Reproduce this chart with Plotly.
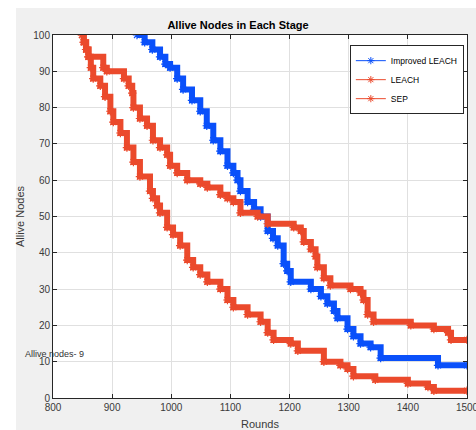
import plotly.graph_objects as go

# Rounds at which the alive-node count steps to the listed value
improved_rounds = [942, 955, 968, 981, 990, 998, 1010, 1020, 1035, 1049, 1060, 1071, 1083, 1095,
                   1105, 1112, 1117, 1129, 1140, 1151, 1163, 1172, 1180, 1190, 1196, 1202, 1236,
                   1253, 1264, 1275, 1281, 1298, 1308, 1320, 1337, 1354, 1451, 1500]
improved_alive = [100, 98, 96, 94, 92, 91, 88, 85, 82, 79, 75, 71, 68, 64,
                  62, 60, 57, 54, 52, 50, 46, 44, 42, 37, 35, 32, 30,
                  28, 26, 24, 22, 19, 17, 15, 14, 11, 9, 9]

leach_rounds = [849, 852, 856, 860, 864, 868, 880, 888, 897, 902, 914, 925, 936, 947, 964, 969,
                976, 981, 993, 1003, 1015, 1027, 1037, 1049, 1061, 1083, 1095, 1105, 1129, 1151,
                1163, 1173, 1202, 1214, 1258, 1286, 1298, 1308, 1345, 1400, 1434, 1444, 1500]
leach_alive = [100, 98, 96, 94, 91, 88, 86, 83, 79, 76, 73, 69, 65, 61, 57, 55,
               53, 51, 47, 45, 42, 38, 36, 34, 32, 30, 27, 25, 23, 21,
               18, 16, 15, 13, 10, 9, 8, 6, 5, 4, 3, 2, 2]

sep_rounds = [849, 852, 856, 860, 885, 891, 920, 928, 934, 936, 947, 959, 969, 981, 993, 998,
              1010, 1027, 1049, 1061, 1083, 1095, 1105, 1117, 1146, 1163, 1207, 1219, 1224, 1236,
              1244, 1247, 1258, 1269, 1303, 1320, 1325, 1332, 1342, 1405, 1444, 1468, 1473, 1500]
sep_alive = [100, 98, 96, 94, 91, 90, 88, 86, 84, 80, 77, 75, 71, 69, 67, 64,
             62, 60, 59, 58, 56, 55, 54, 51, 50, 48, 47, 46, 43, 41,
             39, 36, 33, 31, 30, 29, 27, 23, 21, 20, 19, 18, 16, 16]

x_ticks = [800, 900, 1000, 1100, 1200, 1300, 1400, 1500]
y_ticks = [0, 10, 20, 30, 40, 50, 60, 70, 80, 90, 100]

BLUE = "#0a50fa"
RED = "#eb4a2c"
FONT = "Liberation Sans, Arial, Helvetica, sans-serif"
INK = "#262626"
TICK_INK = "#3a3a3a"

fig = go.Figure()

series = [
    ("Improved LEACH", improved_rounds, improved_alive, BLUE),
    ("LEACH", leach_rounds, leach_alive, RED),
    ("SEP", sep_rounds, sep_alive, RED),
]

# Thick stepped bands with star markers
for name, xs, ys, col in series:
    fig.add_trace(go.Scatter(
        x=xs, y=ys, mode="lines+markers", name=name, showlegend=False,
        line=dict(color=col, width=6, shape="hv"),
        marker=dict(symbol="asterisk-open", size=7, color=col,
                    line=dict(color=col, width=1.2)),
        hoverinfo="skip",
    ))

# Legend entries drawn with thin lines
for name, xs, ys, col in series:
    fig.add_trace(go.Scatter(
        x=[None], y=[None], mode="lines+markers", name=name,
        line=dict(color=col, width=1),
        marker=dict(symbol="asterisk-open", size=6, color=col,
                    line=dict(color=col, width=1)),
    ))

axis_common = dict(
    showgrid=True, gridcolor="#e0e0e0", gridwidth=1,
    showline=True, linecolor=INK, linewidth=1, mirror="ticks",
    ticks="inside", ticklen=4, tickcolor=INK,
    tickfont=dict(family=FONT, size=10, color=TICK_INK),
    ticklabeloverflow="allow", automargin=False,
    zeroline=False,
)

fig.update_layout(
    width=476, height=430,
    margin=dict(l=53, r=9, t=35, b=32),
    paper_bgcolor="white", plot_bgcolor="white",
    title=dict(text="<b>Allive Nodes in Each Stage</b>", x=0.5, xanchor="center",
               y=1, yref="paper", yanchor="bottom", pad=dict(b=6),
               font=dict(family=FONT, size=11, color="black")),
    xaxis=dict(range=[800, 1500], tickvals=x_ticks,
               title=dict(text="Rounds", font=dict(family=FONT, size=11, color=TICK_INK), standoff=12),
               **axis_common),
    yaxis=dict(range=[0, 100], tickvals=y_ticks,
               title=dict(text="Allive Nodes", font=dict(family=FONT, size=11, color=TICK_INK), standoff=6),
               **axis_common),
    legend=dict(x=0.717, y=0.972, xanchor="left", yanchor="top",
                bgcolor="white", bordercolor=INK, borderwidth=1,
                font=dict(family=FONT, size=8.5, color="black"),
                tracegroupgap=0, itemwidth=30),
    shapes=[
        dict(type="rect", xref="paper", yref="paper", x0=-0.0894, x1=1.03, y0=-0.1, y1=1.0744,
             fillcolor="#f0f0f0", line=dict(width=0), layer="below"),
        dict(type="rect", xref="paper", yref="paper", x0=0, x1=1, y0=0, y1=1,
             fillcolor="white", line=dict(width=0), layer="below"),
    ],
    annotations=[
        dict(text="Allive nodes- 9", xref="paper", yref="paper", x=-0.072, y=0.12,
             xanchor="left", yanchor="middle", showarrow=False,
             font=dict(family=FONT, size=9, color="#333333")),
    ],
)

fig.write_html("out.html")
